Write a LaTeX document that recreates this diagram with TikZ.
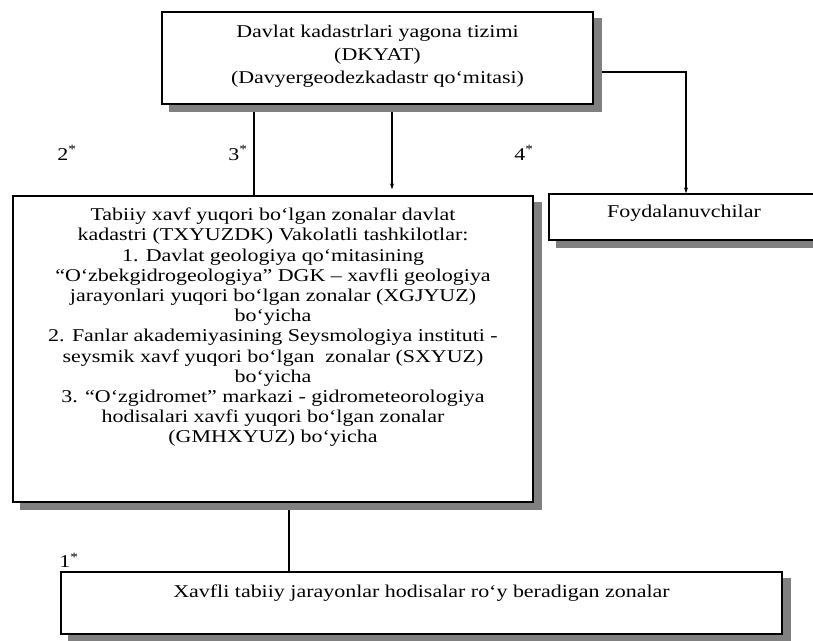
\documentclass[tikz,border=0pt]{standalone}
\usepackage{fontspec}
\setmainfont[FakeStretch=1.22]{Liberation Serif}
\usetikzlibrary{arrows.meta}
\pgfdeclarelayer{paper}
\pgfdeclarelayer{lines}
\pgfdeclarelayer{shadows}
\pgfsetlayers{paper,lines,shadows,main}
\tikzset{
  boxnode/.style={draw=black, line width=1.3pt, fill=white, inner sep=0pt},
  shadowfill/.style={fill=black!50},
  conn/.style={draw=black, line width=1.6pt},
  tinytip/.style={-{Stealth[length=6pt,width=4pt]}},
  starlabel/.style={font=\fontsize{18}{20}\selectfont, inner sep=0pt}
}
\newcommand{\boxtext}[3]{\parbox[c][#1][t]{#2}{\centering\fontsize{18}{20.2}\selectfont #3}}
\begin{document}
\begin{tikzpicture}[x=1pt,y=-1pt]
\useasboundingbox (0,0) rectangle (813,640);
\begin{pgfonlayer}{paper}
\fill[white] (0,0) rectangle (813,640);
\end{pgfonlayer}

\coordinate (col3) at (254,0);
\coordinate (colmid) at (392,0);
\coordinate (col1) at (289,0);

% boxes
\node[boxnode, minimum width=431pt, minimum height=92pt] (top) at (377.5,58)
  {\parbox[c][92pt][t]{420pt}{\centering\fontsize{18}{23}\selectfont\vspace{13pt}
   Davlat kadastrlari yagona tizimi\\ (DKYAT)\\ (Davyergeodezkadastr qo‘mitasi)}};

\node[boxnode, minimum width=520pt, minimum height=306pt] (big) at (273,349)
  {\boxtext{306pt}{510pt}{\vspace{12pt}
   Tabiiy xavf yuqori bo‘lgan zonalar davlat\\
   kadastri (TXYUZDK) Vakolatli tashkilotlar:\\
   1. Davlat geologiya qo‘mitasining\\
   “O‘zbekgidrogeologiya” DGK -- xavfli geologiya\\
   jarayonlari yuqori bo‘lgan zonalar (XGJYUZ)\\
   bo‘yicha\\
   2. Fanlar akademiyasining Seysmologiya instituti -\\
   seysmik xavf yuqori bo‘lgan \ zonalar (SXYUZ)\\
   bo‘yicha\\
   3. “O‘zgidromet” markazi - gidrometeorologiya\\
   hodisalari xavfi yuqori bo‘lgan zonalar\\
   (GMHXYUZ) bo‘yicha}};

\node[boxnode, minimum width=270pt, minimum height=46pt] (user) at (684,217)
  {\boxtext{46pt}{260pt}{\vspace{11pt}Foydalanuvchilar}};

\node[boxnode, minimum width=721pt, minimum height=62pt] (bottom) at (421.5,603)
  {\boxtext{62pt}{700pt}{\vspace{13pt}Xavfli tabiiy jarayonlar hodisalar ro‘y beradigan zonalar}};

% shadows
\begin{pgfonlayer}{shadows}
\foreach \n in {top,big,user,bottom}{
  \fill[shadowfill] ([shift={(8,7)}]\n.north west) rectangle ([shift={(8,7)}]\n.south east);
}
\end{pgfonlayer}

% connectors
\begin{pgfonlayer}{lines}
\draw[conn] (top.south -| col3) -- (big.north -| col3);
\draw[conn, tinytip, shorten >=6pt] (top.south -| colmid) -- (big.north -| colmid);
\draw[conn, tinytip] ([yshift=-14pt]top.east) -| ([xshift=2pt]user.north);
\draw[conn] (big.south -| col1) -- (bottom.north -| col1);
\end{pgfonlayer}

% labels
\node[starlabel] (l2) at (67,153) {2\textsuperscript{*}};
\node[starlabel] (l3) at (238,153) {3\textsuperscript{*}};
\node[starlabel] (l4) at (524,153) {4\textsuperscript{*}};
\node[starlabel] (l1) at (69,560) {1\textsuperscript{*}};
\end{tikzpicture}
\end{document}
